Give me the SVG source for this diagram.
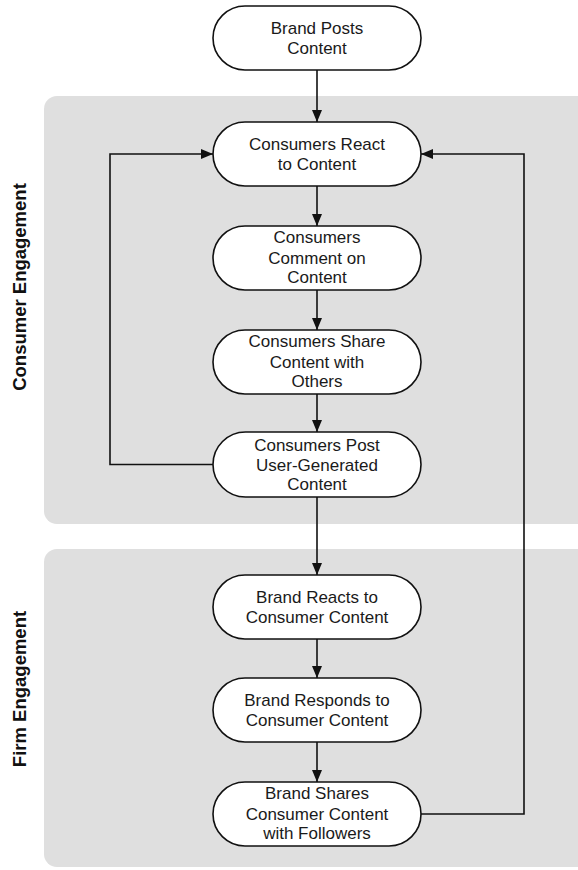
<svg xmlns="http://www.w3.org/2000/svg" width="578" height="870" viewBox="0 0 578 870">
<style>
.panel{fill:#dfdfdf;stroke:none}
.node rect{fill:#fff;stroke:#111;stroke-width:1.6}
.node text{font-family:"Liberation Sans",Arial,sans-serif;font-size:17px;fill:#1a1a1a;text-anchor:middle}
.lbl{font-family:"Liberation Sans",Arial,sans-serif;font-size:18.5px;font-weight:bold;fill:#111;text-anchor:middle}
.edge{fill:none;stroke:#111;stroke-width:1.6}
</style>
<defs>
<marker id="ah" viewBox="0 0 12 10" refX="12" refY="5" markerWidth="12" markerHeight="10" markerUnits="userSpaceOnUse" orient="auto">
<path d="M0,0 L12,5 L0,10 Z" fill="#111"/>
</marker>
</defs>
<g id="panels">
<rect class="panel" x="44" y="96" width="560" height="428" rx="13"/>
<rect class="panel" x="44" y="549" width="560" height="318" rx="13"/>
<text class="lbl" transform="translate(26,287) rotate(-90)">Consumer Engagement</text>
<text class="lbl" transform="translate(26,689) rotate(-90)">Firm Engagement</text>
</g>
<g id="connectors">
<path class="edge" d="M317,70 V122" marker-end="url(#ah)"/>
<path class="edge" d="M317,186 V226" marker-end="url(#ah)"/>
<path class="edge" d="M317,290 V330" marker-end="url(#ah)"/>
<path class="edge" d="M317,394 V432" marker-end="url(#ah)"/>
<path class="edge" d="M317,497 V575" marker-end="url(#ah)"/>
<path class="edge" d="M317,639 V678" marker-end="url(#ah)"/>
<path class="edge" d="M317,742 V782" marker-end="url(#ah)"/>
<path class="edge" d="M213,464.5 H110 V154 H213" marker-end="url(#ah)"/>
<path class="edge" d="M421,814 H524 V154 H421" marker-end="url(#ah)"/>
</g>
<g id="n1" class="node"><rect x="213" y="6" width="208" height="64" rx="32"/><text x="317" y="34">Brand Posts</text><text x="317" y="53.5">Content</text></g>
<g id="n2" class="node"><rect x="213" y="122" width="208" height="64" rx="32"/><text x="317" y="150">Consumers React</text><text x="317" y="169.5">to Content</text></g>
<g id="n3" class="node"><rect x="213" y="226" width="208" height="64" rx="32"/><text x="317" y="243">Consumers</text><text x="317" y="263.5">Comment on</text><text x="317" y="283">Content</text></g>
<g id="n4" class="node"><rect x="213" y="330" width="208" height="64" rx="32"/><text x="317" y="347">Consumers Share</text><text x="317" y="367.5">Content with</text><text x="317" y="387">Others</text></g>
<g id="n5" class="node"><rect x="213" y="432" width="208" height="65" rx="32.5"/><text x="317" y="450.5">Consumers Post</text><text x="317" y="470.5">User-Generated</text><text x="317" y="490">Content</text></g>
<g id="n6" class="node"><rect x="213" y="575" width="208" height="64" rx="32"/><text x="317" y="603">Brand Reacts to</text><text x="317" y="622.5">Consumer Content</text></g>
<g id="n7" class="node"><rect x="213" y="678" width="208" height="64" rx="32"/><text x="317" y="706">Brand Responds to</text><text x="317" y="725.5">Consumer Content</text></g>
<g id="n8" class="node"><rect x="213" y="782" width="208" height="64" rx="32"/><text x="317" y="799">Brand Shares</text><text x="317" y="819.5">Consumer Content</text><text x="317" y="839">with Followers</text></g>
</svg>
